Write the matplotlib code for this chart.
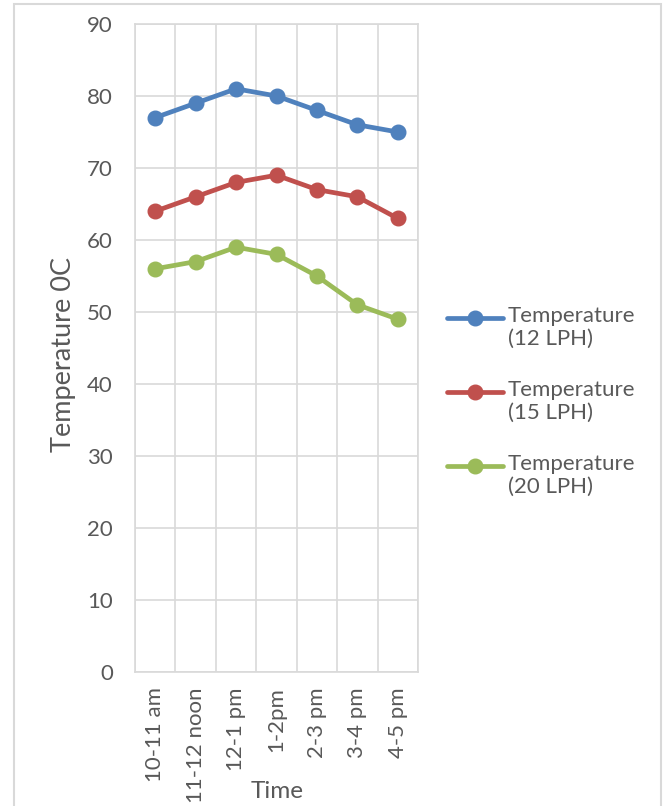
import numpy as np
import matplotlib.pyplot as plt
from matplotlib.patches import Rectangle
from matplotlib.lines import Line2D

plt.rcParams["font.family"] = ["Lato", "DejaVu Sans"]

times = ["10-11 am", "11-12 noon", "12-1 pm", "1-2pm", "2-3 pm", "3-4 pm", "4-5 pm"]
temp_12 = [77, 79, 81, 80, 78, 76, 75]
temp_15 = [64, 66, 68, 69, 67, 66, 63]
temp_20 = [56, 57, 59, 58, 55, 51, 49]

series = [
    ("Temperature\n(12 LPH)", temp_12, "#4F81BD"),
    ("Temperature\n(15 LPH)", temp_15, "#C0504D"),
    ("Temperature\n(20 LPH)", temp_20, "#9BBB59"),
]

txt = "#595959"
grid = "#D9D9D9"
W, H = 668, 806

fig = plt.figure(figsize=(W / 100, H / 100), dpi=100)
fig.patches.append(Rectangle((14 / W, -0.1), 647 / W, 1 - 4 / H + 0.1,
                             transform=fig.transFigure, fill=False,
                             edgecolor=grid, linewidth=1.5))

ax = fig.add_axes([135 / W, 134 / H, 283 / W, 648 / H])
x = np.arange(len(times))
for label, vals, c in series:
    ax.plot(x, vals, color=c, linewidth=3.4, marker="o", markersize=10.5,
            solid_capstyle="round")

ax.set_xlim(-0.5, len(times) - 0.5)
ax.set_ylim(0, 90)
ax.set_yticks(range(0, 91, 10))
ax.set_xticks(x)
ax.set_xticklabels(times, rotation=90, va="top", ha="center")
ax.set_xticks(np.arange(-0.5, len(times), 1), minor=True)
ax.grid(True, which="minor", axis="x", color=grid, linewidth=1.2)
ax.grid(True, which="major", axis="y", color=grid, linewidth=1.2)
ax.set_axisbelow(True)
for s in ax.spines.values():
    s.set_color(grid)
    s.set_linewidth(1.2)
ax.tick_params(which="both", length=0, labelsize=16, labelcolor=txt)
ax.tick_params(axis="y", pad=16)
ax.tick_params(axis="x", pad=11)

fig.text(64 / W, 1 - 355 / H, "Temperature 0C", rotation=90, ha="center",
         va="center", fontsize=19.5, color=txt)
fig.text(277 / W, 1 - 791 / H, "Time", ha="center", va="center",
         fontsize=17.5, color=txt)

# legend, handle aligned with the first text line
for i, (label, vals, c) in enumerate(series):
    yl = 1 - (318 + 74 * i) / H
    fig.lines.append(Line2D([447 / W, 503 / W], [yl, yl], transform=fig.transFigure,
                            color=c, linewidth=3.4, solid_capstyle="round"))
    fig.lines.append(Line2D([475 / W], [yl], transform=fig.transFigure,
                            color=c, marker="o", markersize=10.5))
    fig.text(508 / W, yl + 12 / H, label, ha="left", va="top", fontsize=16,
             color=txt, linespacing=1.2)

fig.savefig("out.png", dpi=100)
